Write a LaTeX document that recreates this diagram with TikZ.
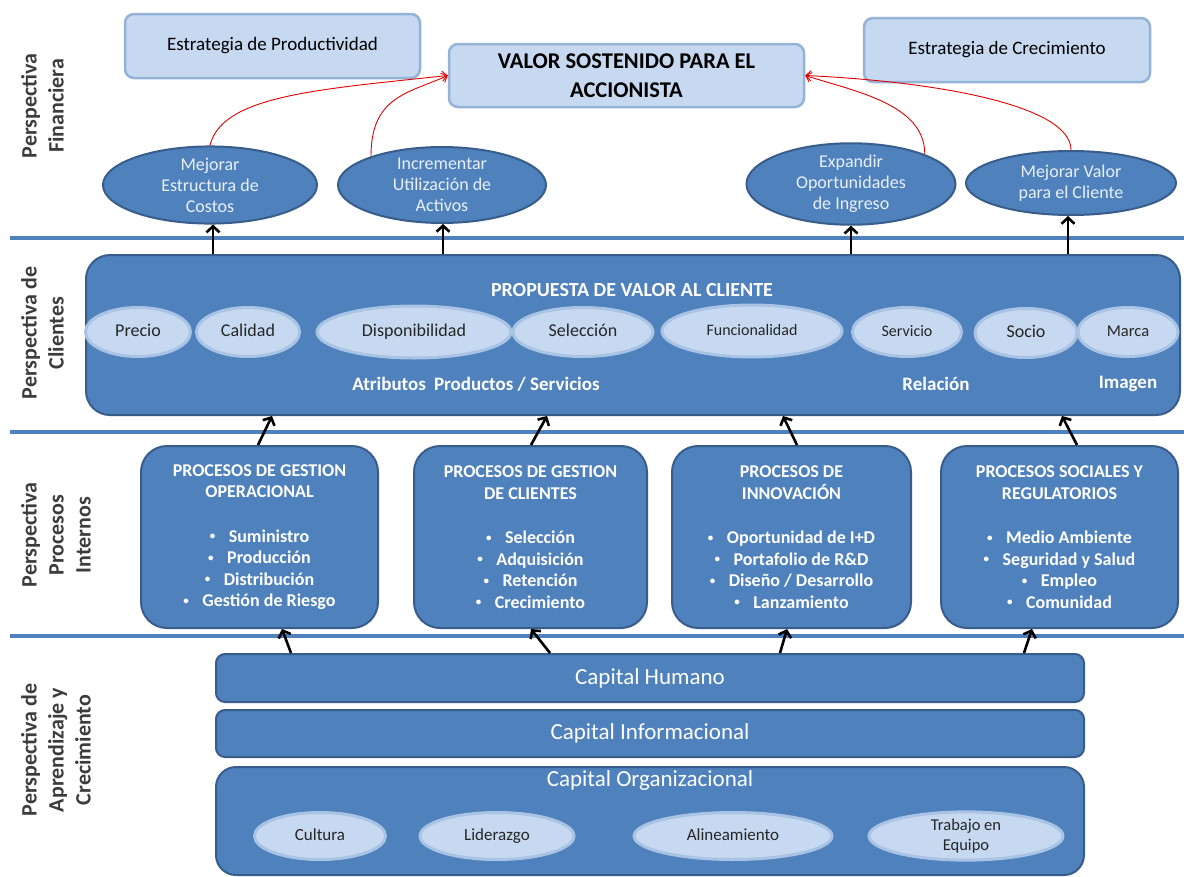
\documentclass[tikz,border=0pt]{standalone}
\usepackage{fontspec}
\setmainfont{Carlito}
\usetikzlibrary{shapes.geometric,arrows.meta}

\definecolor{mainblue}{HTML}{4F81BD}
\definecolor{edgeblue}{HTML}{385D8A}
\definecolor{paleblue}{HTML}{C6D9F1}
\definecolor{paleedge}{HTML}{95B3D7}
\definecolor{ringblue}{HTML}{A9C3E4}
\definecolor{labelgray}{HTML}{3C3C3C}
\definecolor{softwhite}{HTML}{E9F0F8}

\newcommand\setfs[2]{\fontsize{#1}{#2}\selectfont}
% small list bullet followed by a gap
\newcommand\itemdot{\raisebox{2.2pt}{\fontsize{11}{0}\selectfont\textbullet}\hspace{0.75em}}

\begin{document}
\begin{tikzpicture}[x=1pt,y=-1pt,
  sepline/.style={draw=mainblue,line width=3.5pt},
  perspective/.style={rotate=90,anchor=north,align=center,inner sep=0pt,
    text=labelgray,font=\setfs{22}{27}\bfseries},
  stratbox/.style={draw=paleedge,fill=paleblue,line width=2.5pt,rounded corners=9pt,
    minimum height=64pt,align=center,inner sep=0pt,font=\setfs{19}{23}},
  finell/.style={ellipse,draw=edgeblue,fill=mainblue,line width=2pt,inner sep=0pt,
    minimum width=210pt,minimum height=66pt,align=center,text=softwhite,
    font=\setfs{18}{21}},
  bigbox/.style={draw=edgeblue,fill=mainblue,line width=2pt,inner sep=0pt},
  attr/.style={ellipse,draw=ringblue,fill=paleblue,line width=3pt,inner sep=0pt,
    minimum height=49pt,text=black!85,font=\setfs{18}{21}},
  oneline/.style={text height=12pt,text depth=3.5pt},
  proc/.style={draw=edgeblue,fill=mainblue,line width=2pt,rounded corners=26pt,
    minimum height=182pt,inner sep=0pt,align=center,text=white,
    font=\setfs{18}{21.5}\bfseries},
  capbox/.style={draw=edgeblue,fill=mainblue,line width=2pt,rounded corners=9pt,
    minimum width=868pt,inner sep=0pt,text=white,font=\setfs{23}{27}},
  arr/.style={draw=black,line width=2.6pt,-{Straight Barb[length=6pt,width=13pt]}},
  redarr/.style={draw=red!90!black,line width=0.9pt,-{Straight Barb[length=5pt,width=10pt]}},
  boldwhite/.style={text=white,inner sep=0pt,font=\setfs{19}{23}\bfseries}
]
\useasboundingbox[fill=white] (0,0) rectangle (1184,876);

% horizontal dividers between the four perspectives
\coordinate (d1l) at (10,238);  \coordinate (d1r) at (1184,238);
\coordinate (d2l) at (10,432);  \coordinate (d2r) at (1184,432);
\coordinate (d3l) at (10,636);  \coordinate (d3r) at (1184,636);
\draw[sepline] (d1l) -- (d1r);
\draw[sepline] (d2l) -- (d2r);
\draw[sepline] (d3l) -- (d3r);

% perspective titles
\node[perspective] (lfin) at (21,106) {Perspectiva\\Financiera};
\node[perspective] (lcli) at (21,333) {Perspectiva de\\Clientes};
\node[perspective] (lpro) at (21,535) {Perspectiva\\Procesos\\Internos};
\node[perspective] (lapr) at (21,750) {Perspectiva de\\Aprendizaje y\\Crecimiento};

% financial perspective
\node[stratbox,minimum width=295pt] (prod) at (272.5,46) {Estrategia de Productividad};
\node[stratbox,minimum width=355pt,minimum height=63pt,font=\setfs{22.5}{29}\bfseries]
  (valor) at (626.5,75.5) {VALOR SOSTENIDO PARA EL\\ACCIONISTA};
\node[stratbox,minimum width=286pt] (crec) at (1007,50) {Estrategia de Crecimiento};

\node[finell,minimum width=214pt] (e1) at (210,185) {Mejorar\\Estructura de\\Costos};
\node[finell,minimum width=208pt] (e2) at (442,185) {Incrementar\\Utilización de\\Activos};
\node[finell,minimum width=209pt] (e3) at (851,184) {Expandir\\Oportunidades\\de Ingreso};
\node[finell,minimum width=210pt,minimum height=64pt] (e4) at (1071,183) {Mejorar Valor\\para el Cliente};

\draw[redarr] (e1.north) .. controls ([xshift=12pt,yshift=50pt]e1.north) and ([xshift=-130pt,yshift=-14pt]valor.west) .. (valor.west);
\draw[redarr] (e2.158) .. controls ([yshift=60pt]e2.158) and ([xshift=-40pt,yshift=-18pt]valor.west) .. (valor.west);
\draw[redarr] (e3.22) .. controls ([yshift=50pt]e3.22) and ([xshift=50pt,yshift=-16pt]valor.east) .. (valor.east);
\draw[redarr] (e4.north) .. controls ([yshift=45pt]e4.north) and ([xshift=130pt,yshift=-6pt]valor.east) .. (valor.east);

% customer perspective
\node[bigbox,rounded corners=24pt,minimum width=1094pt,minimum height=160pt] (clients) at (633,335) {};
\node[boldwhite,font=\setfs{20}{24}\bfseries] (cvtitle) at (632,290) {PROPUESTA DE VALOR AL CLIENTE};

\node[attr,oneline,minimum width=105pt] (a1) at (138,332) {Precio};
\node[attr,oneline,minimum width=103pt] (a2) at (248,332) {Calidad};
\node[attr,oneline,minimum width=194pt,minimum height=52pt] (a3) at (414,332) {Disponibilidad};
\node[attr,oneline,minimum width=140pt] (a4) at (583,332) {Selección};
\node[attr,oneline,minimum width=180pt,minimum height=52pt,font=\setfs{16}{19}] (a5) at (752,331) {Funcionalidad};
\node[attr,oneline,minimum width=109pt,font=\setfs{16}{19}] (a6) at (907,332) {Servicio};
\node[attr,oneline,minimum width=102pt] (a7) at (1026,333) {Socio};
\node[attr,oneline,minimum width=100pt,font=\setfs{16.5}{19}] (a8) at (1128,332) {Marca};

\node[boldwhite] (g1) at (476,384) {Atributos\hspace{0.2em} Productos / Servicios};
\node[boldwhite] (g2) at (936,384) {Relación};
\node[boldwhite] (g3) at (1128,384) {Imagen};

\draw[arr] ([xshift=3pt]e1.south |- clients.north) -- ([xshift=3pt]e1.south);
\draw[arr] ([xshift=1pt]e2.south |- clients.north) -- ([xshift=1pt]e2.south);
\draw[arr] (e3.south |- clients.north) -- (e3.south);
\draw[arr] ([xshift=-3pt]e4.south |- clients.north) -- ([xshift=-3pt]e4.south);

% internal process perspective
\node[proc,minimum width=237pt] (p1) at (259.5,537) {PROCESOS DE GESTION\\OPERACIONAL\\[23pt]
  \itemdot Suministro\\\itemdot Producción\\
  \itemdot Distribución\\\itemdot Gestión de Riesgo};
\node[proc,minimum width=233pt] (p2) at (530.5,537) {PROCESOS DE GESTION\\DE CLIENTES\\[23pt]
  \itemdot Selección\\\itemdot Adquisición\\
  \itemdot Retención\\\itemdot Crecimiento};
\node[proc,minimum width=239pt] (p3) at (791.5,537) {PROCESOS DE\\INNOVACIÓN\\[23pt]
  \itemdot Oportunidad de I+D\\\itemdot Portafolio de R\&D\\
  \itemdot Diseño / Desarrollo\\\itemdot Lanzamiento};
\node[proc,minimum width=237pt] (p4) at (1059.5,537) {PROCESOS SOCIALES Y\\REGULATORIOS\\[23pt]
  \itemdot Medio Ambiente\\\itemdot Seguridad y Salud\\
  \itemdot Empleo\\\itemdot Comunidad};

\draw[arr] ([xshift=-1.5pt]p1.north) -- ([xshift=12.5pt]p1.north |- clients.south);
\draw[arr] ([xshift=0.5pt]p2.north) -- ([xshift=16.5pt]p2.north |- clients.south);
\draw[arr] ([xshift=5.5pt]p3.north) -- ([xshift=-8.5pt]p3.north |- clients.south);
\draw[arr] ([xshift=17.5pt]p4.north) -- ([xshift=2.5pt]p4.north |- clients.south);

% learning and growth perspective
\node[capbox,minimum height=48pt] (hum) at (650,678) {Capital Humano};
\node[capbox,minimum height=47pt] (inf) at (650,733.5) {Capital Informacional};
\node[capbox,rounded corners=20pt,minimum height=108pt] (org) at (650,821) {};
\node[text=white,inner sep=0pt,font=\setfs{23}{27}] (orgt) at (650,780) {Capital Organizacional};

\node[attr,oneline,minimum width=131pt,minimum height=47pt,font=\setfs{17}{20}] (o1) at (320,836) {Cultura};
\node[attr,oneline,minimum width=154pt,minimum height=47pt,font=\setfs{17}{20}] (o2) at (497,836) {Liderazgo};
\node[attr,oneline,minimum width=198pt,minimum height=47pt,font=\setfs{17}{20}] (o3) at (733,836) {Alineamiento};
\node[attr,minimum width=194pt,minimum height=47pt,align=center,font=\setfs{16.5}{20}] (o4) at (966,836) {Trabajo en\\Equipo};

\draw[arr] ([xshift=31.5pt]p1.south |- hum.north) -- ([xshift=22.5pt]p1.south);
\draw[arr] ([xshift=19.5pt]p2.south |- hum.north) -- ([xshift=0.5pt]p2.south);
\draw[arr] ([xshift=-11.5pt]p3.south |- hum.north) -- ([xshift=-4.5pt]p3.south);
\draw[arr] ([xshift=-35.5pt]p4.south |- hum.north) -- ([xshift=-27.5pt]p4.south);
\end{tikzpicture}
\end{document}
